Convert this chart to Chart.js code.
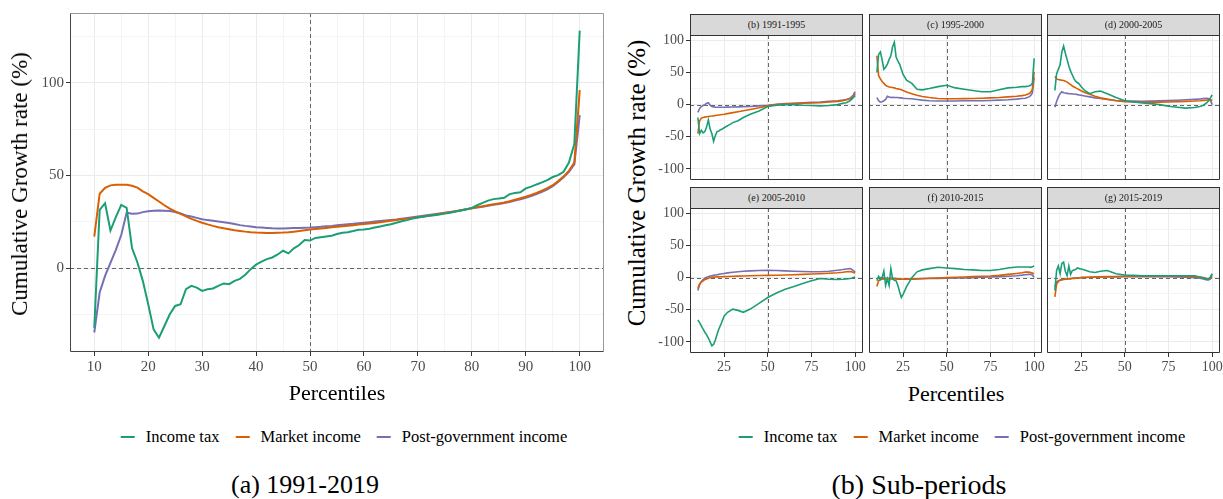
<!DOCTYPE html>
<html>
<head>
<meta charset="utf-8">
<script src="https://cdn.jsdelivr.net/npm/chart.js@4.4.1/dist/chart.umd.min.js"></script>
<style>
  body { margin: 0; background: #fff; }
  #page { position: relative; width: 1223px; height: 499px; overflow: hidden;
          font-family: "Liberation Serif", "Times New Roman", serif; color: #000; }
  canvas { position: absolute; }
  .strip { position: absolute; z-index: 2; background: #D9D9D9; border: 1px solid #333;
           box-sizing: border-box; font-size: 10px; color: #1A1A1A; text-align: center; line-height: 20px; }
  .ytitle { position: absolute; transform: translate(-50%, -50%) rotate(-90deg); white-space: nowrap; font-size: 23px; }
  .xtitle { position: absolute; transform: translate(-50%, -50%); white-space: nowrap; font-size: 22px; }
  .legend { position: absolute; transform: translate(-50%, -50%); display: flex; align-items: center;
            white-space: nowrap; font-size: 16.5px; }
  .legend .item { display: flex; align-items: center; margin-right: 16px; }
  .legend .item:last-child { margin-right: 0; }
  .legend .key { display: inline-block; width: 14px; height: 2px; margin-right: 11px; }
  .caption { position: absolute; transform: translate(-50%, -50%); white-space: nowrap; font-size: 26px; }
</style>
</head>
<body>
<div id="page">
  <canvas id="chartAll" width="610" height="410" style="left:0;top:0"></canvas>

  <div class="ytitle" style="left:20px;top:184px">Cumulative Growth rate (%)</div>
  <div class="xtitle" style="left:337px;top:393px">Percentiles</div>
  <div class="legend" id="legendLeft" style="left:344px;top:437px"></div>
  <div class="caption" style="left:305px;top:485px">(a) 1991-2019</div>

  <div class="ytitle" style="left:637px;top:183px;font-size:25px">Cumulative Growth rate (%)</div>
  <div class="xtitle" style="left:956px;top:394px">Percentiles</div>
  <div class="legend" id="legendRight" style="left:962px;top:437px"></div>
  <div class="caption" style="left:919px;top:485px;font-size:28px">(b) Sub-periods</div>
</div>

<script>
// ---- series, 1991-2019 (one value per percentile) ----
const percentiles = [10, 11, 12, 13, 14, 15, 16, 17, 18, 19, 20, 21, 22, 23, 24, 25, 26, 27, 28, 29,
  30, 31, 32, 33, 34, 35, 36, 37, 38, 39, 40, 41, 42, 43, 44, 45, 46, 47, 48, 49,
  50, 51, 52, 53, 54, 55, 56, 57, 58, 59, 60, 61, 62, 63, 64, 65, 66, 67, 68, 69,
  70, 71, 72, 73, 74, 75, 76, 77, 78, 79, 80, 81, 82, 83, 84, 85, 86, 87, 88, 89,
  90, 91, 92, 93, 94, 95, 96, 97, 98, 99, 100];

const incomeTax = [-32, 31.5, 35.1, 20.4, 27.6, 34.2, 32.6, 11, 3.2, -6.7, -19.3, -32.8, -37.3, -31, -24.7, -20.2, -19.3, -11.2, -9.4, -10.3,
  -12.1, -11.2, -10.8, -9.4, -8.1, -8.5, -6.7, -5.6, -3.4, -0.4, 2, 3.6, 5, 5.9, 7.5, 9.5, 8.1, 10.8, 12.6, 15.3,
  15, 16.4, 16.8, 17.2, 17.6, 18.5, 19.2, 19.5, 20.1, 20.8, 21, 21.3, 22, 22.6, 23.2, 23.8, 24.6, 25.4, 26, 26.8,
  27.4, 27.8, 28.3, 28.6, 29, 29.5, 30, 30.6, 31.2, 31.8, 32.6, 34, 35.3, 36.5, 37.3, 37.6, 38, 40, 40.6, 41,
  43.1, 44, 45.2, 46.3, 47.5, 49.2, 50.2, 52, 57, 67, 128];

const marketIncome = [17.1, 40.2, 43.4, 44.7, 45, 45, 45, 44.5, 43.5, 41.5, 40, 38, 36, 34, 32.2, 30.7, 29.4, 28, 26.7, 25.6,
  24.6, 23.7, 22.9, 22.2, 21.6, 21.1, 20.6, 20.2, 19.8, 19.5, 19.3, 19.2, 19.1, 19.1, 19.2, 19.3, 19.5, 19.8, 20.1, 20.5,
  20.9, 21.2, 21.5, 21.8, 22.1, 22.4, 22.7, 23, 23.3, 23.6, 23.9, 24.2, 24.5, 24.8, 25.2, 25.6, 26, 26.4, 26.8, 27.2,
  27.6, 28, 28.4, 28.8, 29.3, 29.8, 30.3, 30.8, 31.3, 31.8, 32.4, 33, 33.5, 34, 34.5, 35, 35.5, 36.2, 37, 37.8,
  38.6, 39.6, 40.6, 41.9, 43.2, 44.8, 47, 49.5, 52.5, 57, 96];

const postGovIncome = [-34.5, -13, -4, 3, 10, 18, 30, 29.4, 29.5, 30.3, 30.8, 31.1, 31.2, 31.1, 30.9, 30.4, 29.6, 28.5, 27.9, 27.2,
  26.5, 26, 25.6, 25.2, 24.8, 24.4, 23.9, 23.3, 22.9, 22.6, 22.2, 22, 21.8, 21.6, 21.5, 21.5, 21.6, 21.7, 21.8, 21.9,
  22, 22.2, 22.4, 22.7, 22.9, 23.2, 23.5, 23.8, 24, 24.3, 24.6, 24.9, 25.2, 25.5, 25.8, 26.1, 26.4, 26.8, 27.2, 27.6,
  28, 28.4, 28.8, 29.2, 29.6, 30, 30.4, 30.8, 31.3, 31.8, 32.4, 32.8, 33.2, 33.7, 34.2, 34.7, 35.2, 35.8, 36.5, 37.2,
  38, 39, 40, 41.2, 42.6, 44.3, 46.5, 49, 52, 56, 82.5];

// ---- series, sub-periods (read at these percentiles) ----
const facetPercentiles = [10, 11, 12, 13, 14, 15, 16, 17, 18, 19, 20, 21, 22, 23, 24, 25,
  27, 30, 33, 36, 40, 45, 50, 55, 60, 65, 70, 75, 80, 85, 90, 93, 95, 97, 98, 99, 100];

const facetTitles = ['(b) 1991-1995', '(c) 1995-2000', '(d) 2000-2005',
                     '(e) 2005-2010', '(f) 2010-2015', '(g) 2015-2019'];

const taxB = [-20, -45, -40, -44, -42, -35, -24, -38, -45, -57, -48, -42, -41, -39, -38, -36,
  -33, -28, -25, -20, -15, -10, -3, -1, 0, 0, -1, -1.5, -2, -1.5, 0, 2, 3, 6, 8, 11, 14];
const marketB = [-45, -25, -21, -20, -19.5, -19, -18.5, -18, -17.8, -17.5, -17, -16.6, -16.2, -15.8, -15.4, -15,
  -14, -12.5, -11, -9.5, -7.5, -5, -2, 0, 1, 1.5, 2, 2.5, 3, 4, 5, 6, 7.5, 9, 10, 12, 17];
const postB = [-12, -6, -3, -1.5, 0, 2, 3, -1, -3, -3.5, -4, -4, -4, -4, -4, -4,
  -3.9, -3.8, -3.5, -3.2, -3, -2, -1, 0.5, 1.5, 2.2, 3, 3.5, 4, 5, 6, 7, 8, 10, 12, 15, 20];

const taxC = [50, 78, 82, 70, 55, 58, 63, 70, 76, 90, 97, 74, 68, 63, 55, 47,
  38, 33, 24, 23, 25, 28, 30, 26, 24, 22, 20, 20, 23, 26, 27, 28, 28, 29, 30, 33, 72];
const marketC = [76, 45, 40, 36, 33, 30, 28.5, 27.5, 27, 26.5, 26, 25, 24.5, 24, 23, 22,
  19.5, 17, 14.5, 12.5, 11, 9.5, 9, 9, 9.3, 9.6, 10, 10.5, 11, 12, 13, 14, 15, 17, 19, 24, 51];
const postC = [11, 6, 4, 4.5, 6, 8, 13, 12, 11, 11.5, 11, 11, 11, 10.5, 10.5, 10,
  9.5, 9, 8, 7, 6, 5.5, 5.5, 5.5, 6, 6, 6, 6.5, 7, 7.5, 8.5, 9.5, 10, 12, 14, 18, 42];

const taxD = [22, 48, 55, 62, 82, 91, 80, 70, 60, 52, 46, 40, 36, 34, 32, 28,
  22, 17, 20, 21, 17, 11, 6, 4, 2.5, 1.5, 0, -2.5, -4, -5.5, -4.5, -3, -1, 3, 6, 10, 15];
const marketD = [44, 40, 39, 38.5, 38, 37.5, 36.5, 35, 33, 31, 29, 27.5, 26, 24.5, 23, 21.5,
  19, 16, 13, 10.5, 8.5, 6, 4.7, 4, 3.6, 3.6, 3.8, 4.1, 4.5, 5, 5.5, 6, 6.5, 7, 7.5, 8, 6];
const postD = [-4, 5, 12, 17, 20, 18.5, 18, 17.5, 17, 17, 16.5, 16.5, 16, 15.5, 15, 14.5,
  13.5, 12, 10.5, 9.5, 8, 6.5, 5.7, 5.4, 5.2, 5.4, 5.8, 6.2, 6.8, 7.5, 8.2, 8.8, 9.3, 9.8, 9.5, 7, 0];

const taxE = [-66, -70, -75, -80, -85, -89, -94, -100, -106, -104, -97, -88, -80, -74, -67, -60,
  -54, -49, -51, -54, -49, -40, -31, -24, -18, -14, -9, -5, -1.5, -2.5, -3, -2.5, -2, -1.5, -1, 0, 1];
const marketE = [-17, -10, -7, -5, -3, -2, -1, 0, 0.5, 0.8, 1, 1.1, 1.2, 1.3, 1.4, 1.5,
  1.7, 2, 2.3, 2.6, 3, 3.3, 3.5, 3.7, 4, 4.5, 5, 5.5, 6, 6.7, 7.5, 8.3, 9, 9.5, 9, 8, 7];
const postE = [-20, -11, -6, -3, -1, 0.5, 1.5, 2.5, 3, 3.5, 4, 4.5, 5, 5.5, 6, 6.5,
  7.3, 8.3, 9, 9.8, 10.4, 11, 11.2, 11, 10.5, 10, 9.5, 9, 9.2, 10, 11.5, 12.5, 13.5, 14, 13, 11, 9];

const taxF = [-5, 2, -3, 0, 10, -12, -2, -12, 14, -2, -4, -5, -12, -22, -31, -26,
  -14, 0, 9, 12, 14, 16, 15, 14, 12.5, 12, 11, 11, 12.5, 15, 16.5, 16.5, 16.5, 16.5, 16, 17, 18];
const marketF = [-14, -5, -3, -2.5, -2, -2, -2, -2, -2, -2, -2, -2.2, -2.3, -2.4, -2.5, -2.5,
  -2.3, -2, -1.7, -1.4, -1, -0.5, 0, 0.5, 1, 1.5, 2, 2.5, 3.5, 5, 6.5, 7.5, 8.5, 8.5, 8, 7, 6];
const postF = [-2, 0, 0, -0.5, -0.5, -1, -1, -1, -1, -1, -1, -1.5, -2, -2.2, -2.5, -2.5,
  -2.5, -2.5, -2.2, -1.8, -1.5, -1.2, -1, -0.7, -0.5, 0, 0.5, 1, 1.5, 2.2, 3, 3.8, 4.5, 5, 5, 4, 0.5];

const taxG = [-20, 11, 18, 6, 22, 24, 10, 3, 18, 5, 11, 12, 13, 15, 14, 13.5,
  12, 9, 8, 10, 11, 6, 4, 3.5, 3, 3, 3, 3, 3, 3, 3, 1, -1, -2, -2, 1, 6];
const marketG = [-30, -10, -6, -4, -3, -2.5, -2.2, -2, -1.8, -1.6, -1.5, -1.2, -1, -0.7, -0.3, 0,
  0.3, 0.5, 0.8, 1.2, 1.5, 1.8, 2, 2, 2, 2, 2, 2, 2, 1.8, 1.5, 0.8, 0, -1.5, -2, -1, 1];
const postG = [-14, -7, -5, -4, -3.5, -3, -2.5, -2.2, -2, -1.7, -1, -0.8, -0.6, -0.4, -0.2, 0,
  0.2, 0.5, 0.7, 0.9, 1, 1.2, 1.5, 1.5, 1.5, 1.5, 1.5, 1.3, 1, 0.5, 0, -1, -2, -3.5, -3.5, -2, 5];

// ---- tick positions ----
const mainXMajor = [10, 20, 30, 40, 50, 60, 70, 80, 90, 100];
const mainXMinor = [15, 25, 35, 45, 55, 65, 75, 85, 95];
const mainYMajor = [0, 50, 100];
const mainYMinor = [-25, 25, 75, 125];
const facetXMajor = [25, 50, 75, 100];
const facetXMinor = [12.5, 37.5, 62.5, 87.5];
const facetYMajor = [-100, -50, 0, 50, 100];
const facetYMinor = [-75, -25, 25, 75];

const seriesNames = ['Income tax', 'Market income', 'Post-government income'];
const seriesColors = ['#1B9E77', '#D95F02', '#7570B3'];
const FONT = '"Liberation Serif", "Times New Roman", serif';

// cadre du panneau + lignes de reference en pointilles
const panelFrame = {
  id: 'panelFrame',
  beforeDatasetsDraw(chart, args, opts) {
    const { ctx, chartArea: a, scales } = chart;
    const x0 = Math.round(scales.x.getPixelForValue(opts.refX)) + 0.5;
    const y0 = Math.round(scales.y.getPixelForValue(opts.refY)) + 0.5;
    ctx.save();
    ctx.strokeStyle = '#666';
    ctx.lineWidth = 1;
    ctx.setLineDash([4, 3]);
    ctx.beginPath();
    ctx.moveTo(a.left, y0); ctx.lineTo(a.right, y0);
    ctx.moveTo(x0, a.top); ctx.lineTo(x0, a.bottom);
    ctx.stroke();
    ctx.restore();
  },
  afterDraw(chart, args, opts) {
    const { ctx, chartArea: a } = chart;
    const l = Math.round(a.left) + 0.5, t = Math.round(a.top) + 0.5;
    const r = Math.round(a.right) - 0.5, b = Math.round(a.bottom) - 0.5;
    ctx.save();
    ctx.lineWidth = 1;
    ctx.strokeStyle = opts.frameLight;
    ctx.beginPath();
    ctx.moveTo(l, t); ctx.lineTo(r, t); ctx.lineTo(r, b);
    ctx.stroke();
    ctx.strokeStyle = opts.frameDark;
    ctx.beginPath();
    ctx.moveTo(l, t); ctx.lineTo(l, b); ctx.lineTo(r, b);
    ctx.stroke();
    ctx.restore();
  }
};

function axisOptions(cfg) {
  const isMajor = v => cfg.major.includes(v);
  return {
    type: 'linear',
    min: cfg.min,
    max: cfg.max,
    afterBuildTicks: s => { s.ticks = cfg.major.concat(cfg.minor).sort((a, b) => a - b).map(v => ({ value: v })); },
    afterFit: s => { if (cfg.isX) s.height = cfg.size; else s.width = cfg.size; },
    ticks: {
      display: cfg.show,
      autoSkip: false,
      maxRotation: 0,
      padding: 2,
      color: '#4D4D4D',
      font: { family: FONT, size: cfg.fontSize },
      callback: v => isMajor(v) ? String(v) : ''
    },
    grid: {
      color: c => isMajor(c.tick.value) ? '#EBEBEB' : '#F4F4F4',
      lineWidth: 1,
      drawTicks: cfg.show,
      tickLength: 4,
      tickColor: c => isMajor(c.tick.value) ? '#333' : 'rgba(0,0,0,0)'
    },
    border: { display: false }
  };
}

function drawPanel(canvas, cfg) {
  return new Chart(canvas, {
    type: 'line',
    data: {
      datasets: cfg.series.map((ys, k) => ({
        label: seriesNames[k],
        data: cfg.xs.map((x, i) => ({ x: x, y: ys[i] })),
        borderColor: seriesColors[k],
        borderWidth: cfg.lineWidth,
        pointRadius: 0,
        tension: 0,
        fill: false
      }))
    },
    options: {
      responsive: false,
      animation: false,
      devicePixelRatio: 1,
      layout: { padding: cfg.padding, autoPadding: false },
      plugins: {
        legend: { display: false },
        tooltip: { enabled: false },
        panelFrame: { refX: 50, refY: 0, frameLight: cfg.frameLight, frameDark: cfg.frameDark }
      },
      scales: {
        x: axisOptions(cfg.x),
        y: axisOptions(cfg.y)
      }
    },
    plugins: [panelFrame]
  });
}

// ---- (a) 1991-2019 ----
drawPanel(document.getElementById('chartAll'), {
  xs: percentiles,
  series: [incomeTax, marketIncome, postGovIncome],
  lineWidth: 2,
  frameLight: '#999', frameDark: '#444',
  padding: { top: 13, right: 6, left: 0, bottom: 0 },
  x: { isX: true, min: 5.5, max: 104.5, major: mainXMajor, minor: mainXMinor, show: true, size: 58, fontSize: 15 },
  y: { isX: false, min: -45, max: 137.5, major: mainYMajor, minor: mainYMinor, show: true, size: 70, fontSize: 15 }
});

// ---- (b) sous-periodes ----
const facetSeries = [
  [taxB, marketB, postB], [taxC, marketC, postC], [taxD, marketD, postD],
  [taxE, marketE, postE], [taxF, marketF, postF], [taxG, marketG, postG]
];
const colLeft = [690, 869, 1047];
const rowTop = [35, 208];
const plotW = 173, plotH = 145;
const page = document.getElementById('page');

facetSeries.forEach((series, idx) => {
  const col = idx % 3, row = Math.floor(idx / 3);
  const yAxisW = col === 0 ? 45 : 0;
  const xAxisH = row === 1 ? 25 : 0;
  const padTop = 14, padRight = 8, padBottom = row === 1 ? 0 : 14;

  const canvas = document.createElement('canvas');
  canvas.width = yAxisW + plotW + padRight;
  canvas.height = padTop + plotH + xAxisH + padBottom;
  canvas.style.left = (colLeft[col] - yAxisW) + 'px';
  canvas.style.top = (rowTop[row] - padTop) + 'px';
  page.appendChild(canvas);

  const strip = document.createElement('div');
  strip.className = 'strip';
  strip.textContent = facetTitles[idx];
  strip.style.left = colLeft[col] + 'px';
  strip.style.top = (rowTop[row] - 21) + 'px';
  strip.style.width = plotW + 'px';
  strip.style.height = '22px';
  page.appendChild(strip);

  drawPanel(canvas, {
    xs: facetPercentiles,
    series: series,
    lineWidth: 1.6,
    frameLight: '#333', frameDark: '#333',
    padding: { top: padTop, right: padRight, left: 0, bottom: padBottom },
    x: { isX: true, min: 5.5, max: 104.5, major: facetXMajor, minor: facetXMinor, show: row === 1, size: xAxisH, fontSize: 14 },
    y: { isX: false, min: -117.3, max: 108.3, major: facetYMajor, minor: facetYMinor, show: col === 0, size: yAxisW, fontSize: 14 }
  });
});

// ---- legendes ----
['legendLeft', 'legendRight'].forEach(id => {
  const box = document.getElementById(id);
  seriesNames.forEach((name, k) => {
    const item = document.createElement('span');
    item.className = 'item';
    const key = document.createElement('span');
    key.className = 'key';
    key.style.background = seriesColors[k];
    item.appendChild(key);
    item.appendChild(document.createTextNode(name));
    box.appendChild(item);
  });
});
</script>
</body>
</html>
